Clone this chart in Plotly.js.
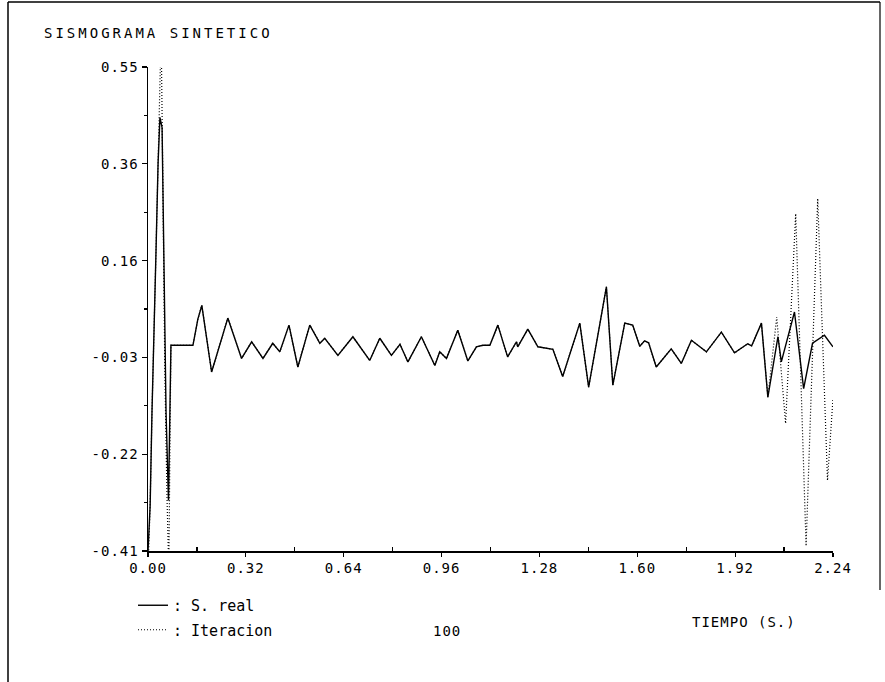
<!DOCTYPE html>
<html>
<head>
<meta charset="utf-8">
<script src="https://cdn.plot.ly/plotly-3.0.1.min.js"></script>
<style>
  html, body { margin: 0; padding: 0; background: #fff; }
  #chart { width: 885px; height: 682px; }
  .xtick text, .ytick text, .annotation-text { letter-spacing: 1px; }
  .gtitle { letter-spacing: 3px !important; }
  .legendtext { letter-spacing: 0px !important; }
</style>
</head>
<body>
<div id="chart"></div>
<script>
// ---- data (time in s, amplitude) ----
// S. real : opening wavelet
const realHeadT = [0.000, 0.007, 0.013, 0.020, 0.026, 0.033, 0.039, 0.046, 0.052, 0.059, 0.067];
const realHeadV = [-0.41, -0.32, -0.135, 0.01, 0.18, 0.36, 0.45, 0.43, 0.18, -0.135, -0.31];

// common part (both curves overlap here)
const midT = [0.075, 0.147, 0.163, 0.176, 0.208, 0.261, 0.306, 0.339, 0.376, 0.408, 0.431, 0.461,
  0.490, 0.529, 0.551, 0.562, 0.578, 0.621, 0.670, 0.725, 0.758, 0.796, 0.824, 0.850, 0.894,
  0.938, 0.954, 0.976, 1.013, 1.046, 1.074, 1.095, 1.118, 1.144, 1.176, 1.205, 1.209, 1.242,
  1.275, 1.324, 1.356, 1.412, 1.441, 1.499, 1.520, 1.559, 1.585, 1.608, 1.624, 1.637, 1.662,
  1.711, 1.744, 1.777, 1.826, 1.875, 1.918, 1.961, 1.974, 2.006];
const midV = [-0.002, -0.002, 0.050, 0.077, -0.055, 0.052, -0.028, 0.005, -0.028, 0.002, -0.015, 0.038,
  -0.045, 0.038, 0.015, 0.002, 0.012, -0.022, 0.015, -0.032, 0.012, -0.022, 0.000, -0.035, 0.015,
  -0.042, -0.015, -0.028, 0.028, -0.033, -0.005, -0.002, -0.002, 0.038, -0.025, 0.005, -0.005, 0.030,
  -0.005, -0.010, -0.064, 0.042, -0.085, 0.114, -0.081, 0.042, 0.038, -0.004, 0.007, 0.003, -0.045,
  -0.009, -0.038, 0.008, -0.015, 0.024, -0.017, 0.001, -0.003, 0.042];

// S. real : end
const realTailT = [2.027, 2.060, 2.071, 2.114, 2.144, 2.173, 2.212, 2.240];
const realTailV = [-0.105, 0.015, -0.035, 0.064, -0.088, 0.002, 0.018, -0.005];

// Iteracion : opening wavelet and end
const iterHeadT = [0.000, 0.007, 0.013, 0.020, 0.026, 0.033, 0.039, 0.043, 0.049, 0.055, 0.062, 0.068];
const iterHeadV = [-0.45, -0.32, -0.135, 0.01, 0.18, 0.36, 0.50, 0.62, 0.30, -0.05, -0.30, -0.45];
const iterTailT = [2.027, 2.056, 2.085, 2.118, 2.152, 2.190, 2.222, 2.240];
const iterTailV = [-0.105, 0.054, -0.157, 0.259, -0.400, 0.289, -0.270, -0.107];

// axis ticks
const xTickVals = [0, 0.32, 0.64, 0.96, 1.28, 1.60, 1.92, 2.24];
const xTickText = ["0.00", "0.32", "0.64", "0.96", "1.28", "1.60", "1.92", "2.24"];
const xMinorVals = [0.16, 0.48, 0.80, 1.12, 1.44, 1.76, 2.08];
const yTickVals = [0.55, 0.358, 0.166, -0.026, -0.218, -0.41];
const yTickText = ["0.55", "0.36", "0.16", "-0.03", "-0.22", "-0.41"];
const yMinorVals = [0.454, 0.262, 0.070, -0.122, -0.314];

const seriesNames = [": S. real", ": Iteracion"];
const iterationNumber = "100";

// ---- build ----
const realT = realHeadT.concat(midT, realTailT);
const realV = realHeadV.concat(midV, realTailV);
const iterT = iterHeadT.concat(midT, iterTailT);
const iterV = iterHeadV.concat(midV, iterTailV);

const FONT = "DejaVu Sans Mono, Liberation Mono, monospace";

// pixel helpers for layout placement (plot area 148..833 x 67..551)
const L = 148, R = 833, T = 67, B = 551;
const px = x => (x - L) / (R - L);
const py = y => (B - y) / (B - T);

const traces = [
  {
    x: realT, y: realV, type: "scatter", mode: "lines", name: seriesNames[0],
    legendgroup: "a",
    line: { color: "#000", width: 1.4 }
  },
  {
    x: iterT, y: iterV, type: "scatter", mode: "lines", name: seriesNames[1],
    legendgroup: "b",
    line: { color: "#000", width: 1.2, dash: "1px,2px" }
  }
];

const layout = {
  width: 885, height: 682,
  paper_bgcolor: "#fff", plot_bgcolor: "#fff",
  margin: { l: L, r: 885 - R, t: T, b: 682 - B, pad: 0 },
  font: { family: FONT, size: 14, color: "#000" },
  title: {
    text: "SISMOGRAMA SINTETICO",
    font: { family: FONT, size: 14, color: "#000" },
    xref: "container", yref: "container",
    x: 44 / 885, xanchor: "left",
    y: 1 - 33 / 682, yanchor: "middle"
  },
  showlegend: true,
  legend: {
    x: px(133), xanchor: "left",
    y: py(589), yanchor: "top",
    font: { family: FONT, size: 15, color: "#000" },
    bgcolor: "rgba(0,0,0,0)", borderwidth: 0,
    tracegroupgap: 2,
    itemclick: false
  },
  xaxis: {
    range: [0, 2.24], showgrid: false, zeroline: false,
    showline: true, linecolor: "#000", linewidth: 1.5,
    ticks: "outside", ticklen: 4, tickwidth: 1.2, tickcolor: "#000",
    tickmode: "array", tickvals: xTickVals, ticktext: xTickText,
    tickfont: { family: FONT, size: 14, color: "#000" },
    minor: { tickmode: "array", tickvals: xMinorVals, ticks: "inside", ticklen: 4, tickwidth: 1.2, tickcolor: "#000", showgrid: false },
    fixedrange: true
  },
  yaxis: {
    range: [-0.41, 0.55], showgrid: false, zeroline: false,
    showline: true, linecolor: "#000", linewidth: 1.5,
    ticks: "outside", ticklen: 5, tickwidth: 1.2, tickcolor: "#000",
    tickmode: "array", tickvals: yTickVals, ticktext: yTickText,
    tickfont: { family: FONT, size: 14, color: "#000" },
    minor: { tickmode: "array", tickvals: yMinorVals, ticks: "outside", ticklen: 3, tickwidth: 1.2, tickcolor: "#000", showgrid: false },
    fixedrange: true
  },
  annotations: [
    { text: "TIEMPO (S.)", xref: "paper", yref: "paper", x: px(744), y: py(622),
      xanchor: "center", yanchor: "middle", showarrow: false,
      font: { family: FONT, size: 14, color: "#000" } },
    { text: iterationNumber, xref: "paper", yref: "paper", x: px(447), y: py(631),
      xanchor: "center", yanchor: "middle", showarrow: false,
      font: { family: FONT, size: 14, color: "#000" } }
  ],
  shapes: [
    { type: "line", xref: "paper", yref: "paper", x0: px(8), x1: px(880), y0: py(2), y1: py(2), line: { color: "#000", width: 1.5 } },
    { type: "line", xref: "paper", yref: "paper", x0: px(8), x1: px(8), y0: py(2), y1: py(682), line: { color: "#000", width: 1.5 } },
    { type: "line", xref: "paper", yref: "paper", x0: px(880), x1: px(880), y0: py(2), y1: py(590), line: { color: "#000", width: 1.2 } }
  ]
};

Plotly.newPlot("chart", traces, layout, { staticPlot: true, displayModeBar: false });
</script>
</body>
</html>
